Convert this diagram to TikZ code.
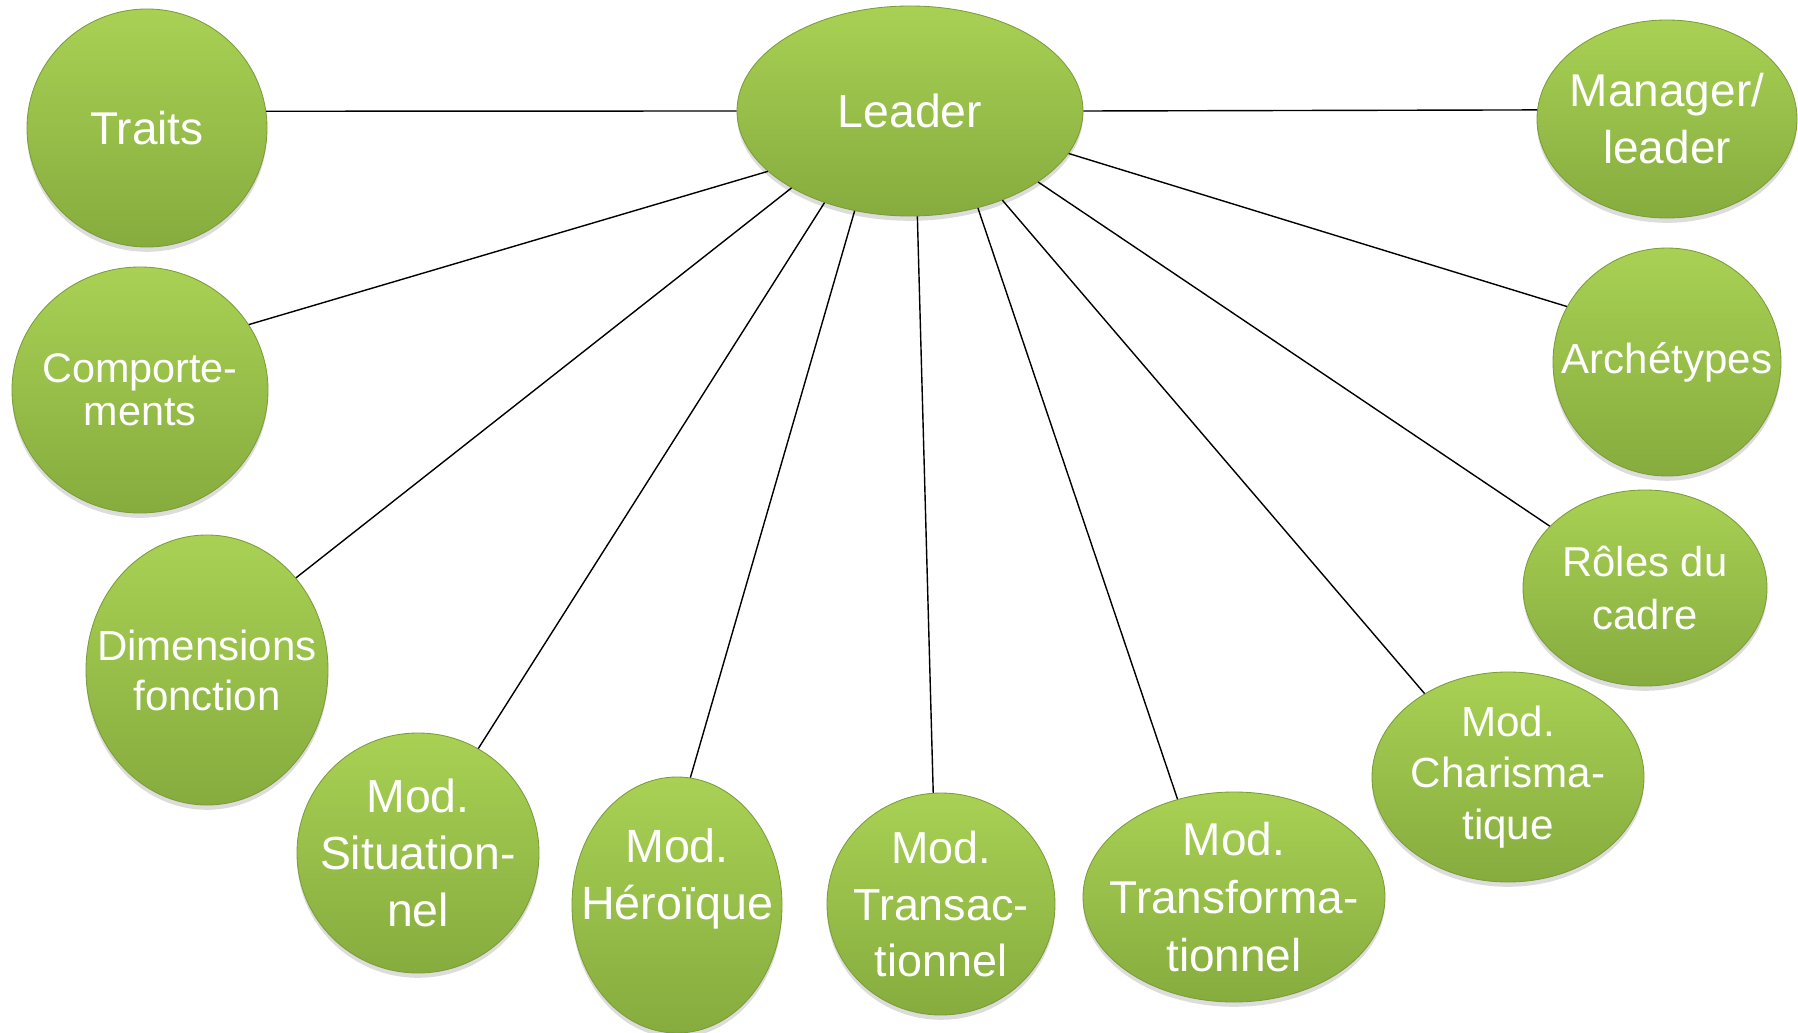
\documentclass[tikz,border=0pt]{standalone}
\usepackage{fontspec}
\setmainfont{Liberation Sans}
\usepackage{xcolor}
\usepackage{tikz}
\usetikzlibrary{shapes.geometric, shadows}

\definecolor{vertclair}{HTML}{A8D154}
\definecolor{vertfonce}{HTML}{86AC3E}
\definecolor{vertbord}{HTML}{7B9C37}
\newcommand{\taille}[2]{\fontsize{#1}{#2}\selectfont}

\begin{document}
\begin{tikzpicture}[
    x=0.25mm, y=-0.25mm,
    bulle/.style = {ellipse, draw=vertbord, line width=0.6pt, top color=vertclair, bottom color=vertfonce, inner sep=0pt, drop shadow={opacity=0.28, shadow xshift=0pt, shadow yshift=-1.2mm}},
    txt/.style = {text=white, align=center, inner sep=0pt},
    lien/.style = {line width=1pt, black}
]
    \useasboundingbox (0,0) rectangle (1798,1033);

    \node[bulle, minimum width=86.5mm, minimum height=52.5mm, label={[txt, font=\taille{33}{41}]center:Leader}] (leader) at (910,111) {};
    \node[bulle, minimum width=60mm, minimum height=59.5mm, label={[txt, font=\taille{32.7}{40}]center:Traits}] (traits) at (147,128) {};
    \node[bulle, minimum width=65mm, minimum height=49.5mm, label={[txt, font=\taille{32.7}{40.5}]center:{Manager/\\leader}}] (manager) at (1667,119) {};
    \node[bulle, minimum width=64mm, minimum height=61.5mm, label={[txt, font=\taille{29.4}{30.6}]center:{Comporte-\\ments}}] (comp) at (140,390) {};
    \node[bulle, minimum width=57mm, minimum height=57mm, label={[txt, font=\taille{29.9}{36}]center:Archétypes}] (arch) at (1667,362) {};
    \node[bulle, minimum width=61mm, minimum height=49mm, label={[txt, font=\taille{29.7}{37}]center:{Rôles du\\cadre}}] (roles) at (1645,588) {};
    \node[bulle, minimum width=60.5mm, minimum height=67.5mm, label={[txt, font=\taille{29.9}{35.6}]center:{Dimensions\\fonction}}] (dim) at (207,670) {};
    \node[bulle, minimum width=60.5mm, minimum height=60mm, label={[txt, font=\taille{33}{40.5}]center:{Mod.\\Situation-\\nel}}] (sit) at (418,853) {};
    \node[bulle, minimum width=52.5mm, minimum height=64mm, label={[txt, font=\taille{33.2}{40.5}, yshift=6.5mm]center:{Mod.\\Héroïque}}] (her) at (677,905) {};
    \node[bulle, minimum width=57mm, minimum height=55.5mm, label={[txt, font=\taille{31.9}{40.5}]center:{Mod.\\Transac-\\tionnel}}] (trans) at (941,904) {};
    \node[bulle, minimum width=75.5mm, minimum height=52.5mm, label={[txt, font=\taille{32.7}{41}]center:{Mod.\\Transforma-\\tionnel}}] (transf) at (1234,897) {};
    \node[bulle, minimum width=68mm, minimum height=52.5mm, label={[txt, font=\taille{30}{36.5}]center:{Mod.\\Charisma-\\tique}}] (char) at (1508,777) {};

    \draw[lien] (leader.180) -- (traits.8);
    \draw[lien] (leader.0) -- (manager.176);
    \draw[lien] (leader.203) -- (comp.31);
    \draw[lien] (leader.213) -- (dim.46);
    \draw[lien] (leader.227) -- (sit.60);
    \draw[lien] (leader.241) -- (her.84);
    \draw[lien] (leader.274) -- (trans.94);
    \draw[lien] (leader.305) -- (transf.120);
    \draw[lien] (leader.316) -- (char.135);
    \draw[lien] (leader.331) -- (roles.147);
    \draw[lien] (leader.345) -- (arch.151);
\end{tikzpicture}
\end{document}
